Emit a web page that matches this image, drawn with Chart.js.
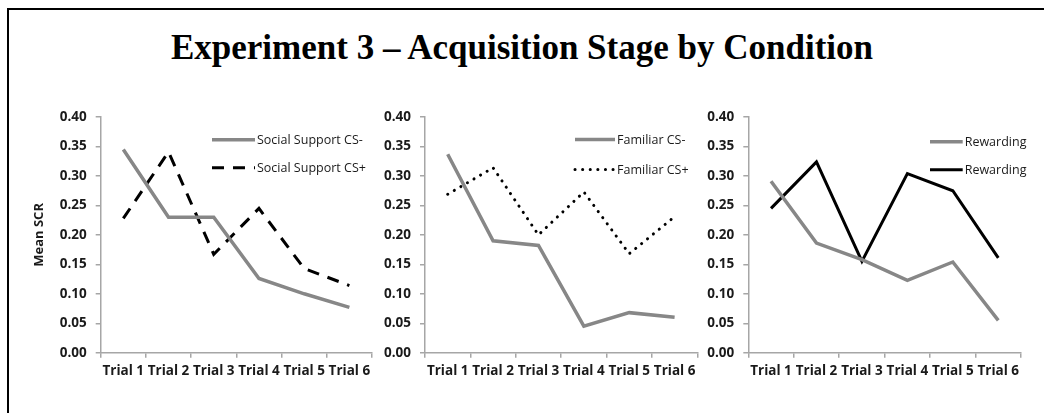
<!DOCTYPE html>
<html>
<head>
<meta charset="utf-8">
<script src="https://cdn.jsdelivr.net/npm/chart.js@4/dist/chart.umd.min.js"></script>
<style>
  html, body { margin: 0; padding: 0; background: #fff; width: 1044px; height: 413px; overflow: hidden; position: relative; }
  #frame { position: absolute; left: 7px; top: 8px; width: 1100px; height: 500px; border: 2px solid #000; box-sizing: border-box; }
  #title { position: absolute; left: 0; width: 1044px; top: 29px; text-align: center; font-family: "Liberation Serif", serif; font-weight: bold; font-size: 35px; line-height: 38px; color: #000; }
  .pane { position: absolute; top: 100px; height: 300px; }
  .pane canvas { display: block; }
</style>
</head>
<body>
<div id="frame"></div>
<div id="title">Experiment 3 – Acquisition Stage by Condition</div>
<div class="pane" style="left:10px;width:370px;"><canvas id="c1" width="370" height="300"></canvas></div>
<div class="pane" style="left:380px;width:330px;"><canvas id="c2" width="330" height="300"></canvas></div>
<div class="pane" style="left:695px;width:349px;"><canvas id="c3" width="349" height="300"></canvas></div>
<script>
// ---- data ----
const trials = ['Trial 1', 'Trial 2', 'Trial 3', 'Trial 4', 'Trial 5', 'Trial 6'];
const yTicks = [0.00, 0.05, 0.10, 0.15, 0.20, 0.25, 0.30, 0.35, 0.40];

const socialLabels = ['Social Support CS-', 'Social Support CS+'];
const socialCSminus = [0.345, 0.230, 0.230, 0.126, 0.100, 0.077];
const socialCSplus  = [0.228, 0.341, 0.167, 0.245, 0.143, 0.114];

const familiarLabels = ['Familiar CS-', 'Familiar CS+'];
const familiarCSminus = [0.337, 0.190, 0.182, 0.045, 0.068, 0.060];
const familiarCSplus  = [0.269, 0.314, 0.200, 0.273, 0.168, 0.231];

const rewardingLabels = ['Rewarding', 'Rewarding'];
const rewardingCSminus = [0.291, 0.186, 0.158, 0.123, 0.154, 0.055];
const rewardingCSplus  = [0.245, 0.324, 0.155, 0.304, 0.275, 0.161];

// ---- styling ----
const GRAY = '#878787';
const AXIS = '#a6a6a6';
const TXT = '#1a1a1a';
const tickFont = { family: '"Open Sans", sans-serif', weight: 'bold', size: 13.5 };

const insideLegend = {
  id: 'insideLegend',
  afterDraw(chart, args, opts) {
    const ctx = chart.ctx, a = chart.chartArea;
    chart.data.datasets.forEach((ds, i) => {
      const y = a.top + opts.rows[i];
      const x0 = a.left + opts.x, x1 = x0 + opts.len;
      ctx.save();
      ctx.strokeStyle = ds.borderColor;
      ctx.lineWidth = ds.borderWidth;
      ctx.lineCap = ds.borderCapStyle || 'butt';
      ctx.setLineDash(ds.borderDash || []);
      ctx.beginPath(); ctx.moveTo(x0, y); ctx.lineTo(x1, y); ctx.stroke();
      ctx.setLineDash([]);
      ctx.fillStyle = TXT;
      ctx.font = '12.5px "Open Sans", sans-serif';
      ctx.textBaseline = 'middle';
      ctx.fillText(ds.label, x1 + 2, y + 1);
      ctx.restore();
    });
  }
};

function makeChart(id, labels, minus, plus, plusStyle, yWidth, rightPad, showTitle, legendOpts) {
  return new Chart(document.getElementById(id), {
    type: 'line',
    data: {
      labels: trials,
      datasets: [
        { label: labels[0], data: minus, borderColor: GRAY, borderWidth: 3.5, pointRadius: 0, tension: 0, borderJoinStyle: 'miter' },
        Object.assign({ label: labels[1], data: plus, pointRadius: 0, tension: 0 }, plusStyle)
      ]
    },
    options: {
      responsive: false,
      animation: false,
      events: [],
      layout: { padding: { top: 14.3, right: rightPad, left: 0, bottom: 0 } },
      plugins: {
        legend: { display: false },
        tooltip: { enabled: false },
        insideLegend: legendOpts
      },
      scales: {
        x: {
          type: 'category',
          offset: true,
          grid: { display: true, offset: true, drawOnChartArea: false, drawTicks: true, tickLength: 5, color: AXIS, lineWidth: 1.5 },
          border: { display: true, color: AXIS, width: 1.5 },
          ticks: { color: TXT, font: tickFont, padding: 5, maxRotation: 0, autoSkip: false },
          afterFit(s) { s.height = 47.3; }
        },
        y: {
          min: 0, max: 0.4,
          afterBuildTicks(s) { s.ticks = yTicks.map(v => ({ value: v })); },
          grid: { display: true, drawOnChartArea: false, drawTicks: true, tickLength: 5, color: AXIS, lineWidth: 1.5 },
          border: { display: true, color: AXIS, width: 1.5 },
          ticks: { color: TXT, font: tickFont, padding: 9, callback: v => Number(v).toFixed(2) },
          title: { display: showTitle, text: 'Mean SCR', color: TXT, font: { family: '"Open Sans", sans-serif', weight: 'bold', size: 13 }, padding: { top: 21, bottom: 0 } },
          afterFit(s) { s.width = yWidth; }
        }
      }
    },
    plugins: [insideLegend]
  });
}

makeChart('c1', socialLabels, socialCSminus, socialCSplus,
  { borderColor: '#000', borderWidth: 3, borderDash: [12, 9] },
  90.7, 8, true, { x: 111.3, len: 43, rows: [22.7, 50.7] });

makeChart('c2', familiarLabels, familiarCSminus, familiarCSplus,
  { borderColor: '#000', borderWidth: 3, borderDash: [0.1, 7.5], borderCapStyle: 'round' },
  45, 12.7, false, { x: 150, len: 40, rows: [22.4, 52.4] });

makeChart('c3', rewardingLabels, rewardingCSminus, rewardingCSplus,
  { borderColor: '#000', borderWidth: 3 },
  53.3, 23, false, { x: 181.7, len: 32.7, rows: [24.7, 52.7] });
</script>
</body>
</html>
